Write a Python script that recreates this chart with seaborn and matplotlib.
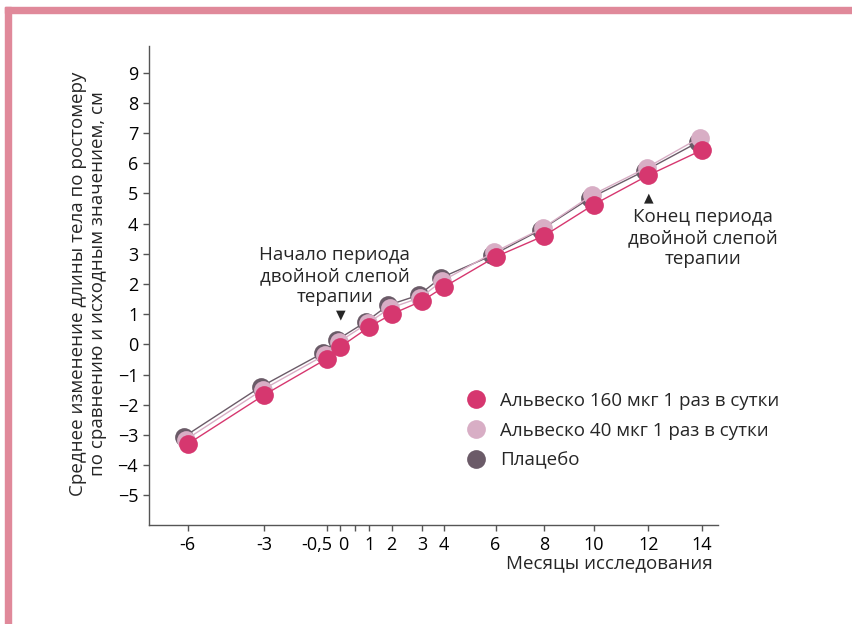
import numpy as np
import pandas as pd
import seaborn as sns
import matplotlib.pyplot as plt
from matplotlib.lines import Line2D
from matplotlib.patches import Rectangle
from matplotlib.transforms import offset_copy, ScaledTranslation

# data (months of study, change in height, cm)
months = [-6, -3, -0.5, 0, 1, 2, 3, 4, 6, 8, 10, 12, 14]
alv160 = [-3.3, -1.67, -0.48, -0.08, 0.58, 1.0, 1.44, 1.9, 2.9, 3.6, 4.63, 5.6, 6.43]
alv40 = [-3.15, -1.5, -0.35, 0.08, 0.7, 1.2, 1.55, 2.1, 3.05, 3.85, 4.95, 5.85, 6.85]
placebo = [-3.05, -1.4, -0.28, 0.15, 0.75, 1.3, 1.63, 2.2, 2.95, 3.8, 4.85, 5.75, 6.7]

series_names = ['Альвеско 160 мкг 1 раз в сутки', 'Альвеско 40 мкг 1 раз в сутки', 'Плацебо']
colors = ['#d6376f', '#d8aec5', '#6b5b68']

tick_months = [-6, -3, -0.5, 0, 0.5, 1, 2, 3, 4, 6, 8, 10, 12, 14]
tick_labels = ['-6', '-3', '-0,5', '0', '', '1', '2', '3', '4', '6', '8', '10', '12', '14']

# uneven month axis of the original
anchor_m = [-10] + tick_months + [20]
anchor_p = [-102, 0, 76.6, 138.8, 152.7, 167.3, 181.6, 203.9, 234.4, 256.2,
            307.9, 356.7, 406.1, 460.6, 514, 674]


def fwd(x):
    return np.interp(x, anchor_m, anchor_p)


def inv(p):
    return np.interp(p, anchor_p, anchor_m)


df = pd.concat([
    pd.DataFrame({'month': months, 'value': alv160, 'group': series_names[0]}),
    pd.DataFrame({'month': months, 'value': alv40, 'group': series_names[1]}),
    pd.DataFrame({'month': months, 'value': placebo, 'group': series_names[2]}),
])

sns.set_theme(style='white')
plt.rcParams['font.family'] = ['Open Sans', 'DejaVu Sans']
FS = 13.5

fig = plt.figure(figsize=(8.52, 6.24), dpi=100)
ax = fig.add_axes([149.3 / 852, 1 - 525 / 624, (718 - 149.3) / 852, (525 - 46) / 624])
ax.set_xscale('function', functions=(fwd, inv))

# draw placebo first so the 160 series sits on top
shifts = {series_names[0]: 0.0, series_names[1]: -1.2, series_names[2]: -2.4}
for name, col in list(zip(series_names, colors))[::-1]:
    sub = df[df['group'] == name]
    sns.lineplot(data=sub, x='month', y='value', color=col, marker='o', markersize=13.5,
                 markeredgewidth=0, linewidth=1.0, ax=ax, legend=False)
    ln = ax.lines[-1]
    ln.set_transform(offset_copy(ax.transData, fig=fig, x=shifts[name], y=0, units='points'))

ax.set_xlim(-7.506, 14.61)
ax.set_ylim(-5.98, 9.88)
ax.set_xticks(tick_months)
ax.set_xticklabels(tick_labels)
ax.set_yticks(range(-5, 10))
ax.minorticks_off()
ax.set_xlabel('')
ax.set_ylabel('')

for s in ['top', 'right']:
    ax.spines[s].set_visible(False)
for s in ['left', 'bottom']:
    ax.spines[s].set_color('#555555')
    ax.spines[s].set_linewidth(1.0)
ax.tick_params(axis='both', direction='out', length=4, width=1, color='#555555',
               labelsize=13, labelcolor='black', left=True, bottom=True, pad=4)

# crowded labels near zero: nudge like the original
xl = ax.get_xticklabels()
xl[2].set_transform(xl[2].get_transform() + ScaledTranslation(-10 / 100, 0, fig.dpi_scale_trans))
xl[3].set_transform(xl[3].get_transform() + ScaledTranslation(3 / 100, 0, fig.dpi_scale_trans))

ax.text(-0.2, 2.27, 'Начало периода\nдвойной слепой\nтерапии', ha='center', va='center',
        fontsize=FS, linespacing=1.2)
ax.text(0, 0.98, '▼', ha='center', va='center', fontsize=9)
ax.text(14.05, 3.53, 'Конец периода\nдвойной слепой\nтерапии', ha='center', va='center',
        fontsize=FS, linespacing=1.2)
ax.text(12, 4.85, '▲', ha='center', va='center', fontsize=9)

handles = [Line2D([], [], marker='o', ls='', markersize=13.5, markeredgewidth=0, color=c)
           for c in colors]
ax.legend(handles, series_names, loc='center left', bbox_to_anchor=(450 / 852, 1 - 430.5 / 624),
          bbox_transform=fig.transFigure, frameon=False, fontsize=FS, handletextpad=0.78,
          labelspacing=0.63, handlelength=1.0)

fig.text(88 / 852, 1 - 284 / 624,
         'Среднее изменение длины тела по ростомеру\nпо сравнению и исходным значением, см',
         rotation=90, ha='center', va='center', fontsize=FS, linespacing=1.15)
fig.text(713 / 852, 1 - 563 / 624, 'Месяцы исследования', ha='right', va='center', fontsize=FS)

# pink page frame
fig.patches.append(Rectangle((5 / 852, 1 - 13 / 624), 847 / 852, 6 / 624,
                             transform=fig.transFigure, color='#e0899a', zorder=0))
fig.patches.append(Rectangle((5 / 852, 0), 6 / 852, 617 / 624,
                             transform=fig.transFigure, color='#e0899a', zorder=0))

fig.savefig('out.png', dpi=100)
